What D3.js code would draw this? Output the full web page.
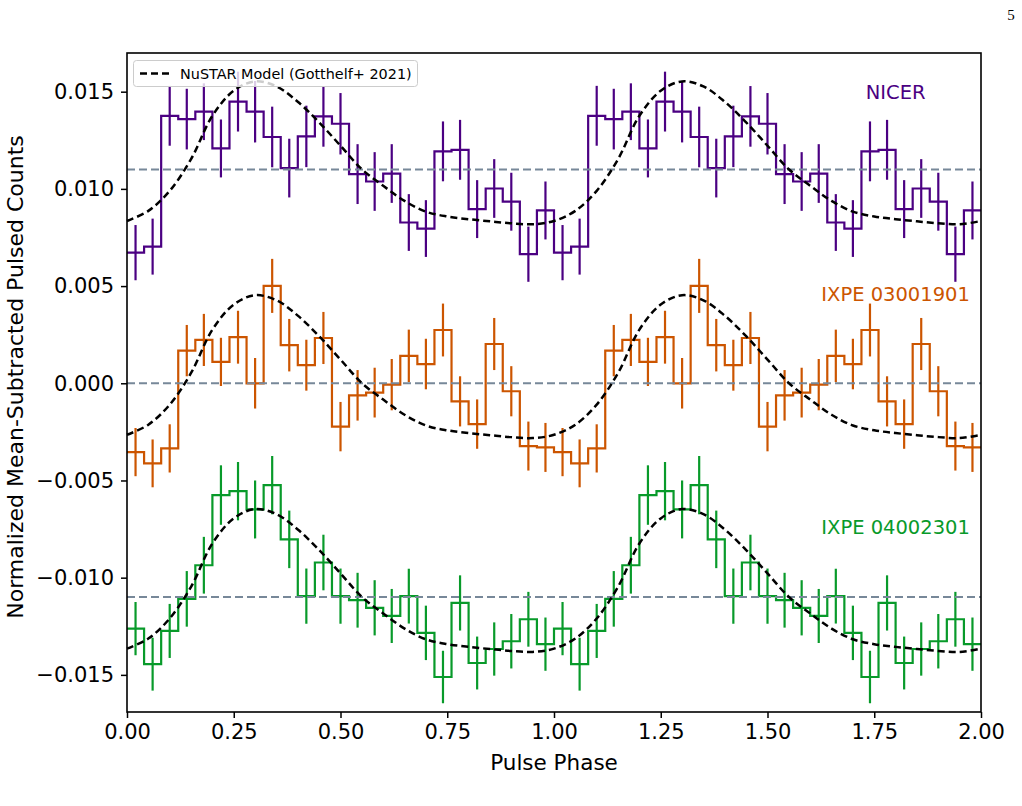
<!DOCTYPE html>
<html>
<head>
<meta charset="utf-8">
<script src="https://cdn.jsdelivr.net/npm/d3@7"></script>
<style>
  body { margin: 0; background: #fff; }
  svg text { font-family: "DejaVu Sans", sans-serif; }
</style>
</head>
<body>
<svg id="chart" width="1022" height="806"></svg>
<script>
// one pulse cycle = 25 phase bins of width 0.04, plotted twice (phase 0-2)
var binWidth = 0.04;
var cycles = 2;

var nicerValues = [0.00672, 0.00703, 0.01376, 0.01359, 0.01397, 0.01208, 0.01449, 0.01397, 0.01267, 0.01107,
  0.0127, 0.01373, 0.01335, 0.01076, 0.01038, 0.01079, 0.00827, 0.00796, 0.01193, 0.01201,
  0.00896, 0.01002, 0.00934, 0.00664, 0.00889];
var nicerErrors = [0.00142, 0.00144, 0.00154, 0.00156, 0.00146, 0.00149, 0.00154, 0.00158, 0.00156, 0.00151,
  0.00158, 0.00156, 0.00158, 0.00154, 0.00151, 0.00151, 0.00146, 0.00146, 0.00154, 0.00154,
  0.00149, 0.00151, 0.00149, 0.00142, 0.00149];

var ixpe1Values = [-0.00354, -0.00412, -0.00335, 0.00168, 0.00223, 0.0011, 0.00237, 0.0, 0.00501, 0.00196,
  0.00093, 0.00233, -0.00223, -0.00062, -0.00048, -0.00007, 0.00141, 0.00099, 0.00274, -0.00093,
  -0.0021, 0.00202, -0.00041, -0.00323, -0.0033];
var ixpe1Errors = [0.00124, 0.00123, 0.00124, 0.00132, 0.00134, 0.00124, 0.00136, 0.0013, 0.00139, 0.00135,
  0.00131, 0.00134, 0.00127, 0.0013, 0.00128, 0.00132, 0.00135, 0.0013, 0.00136, 0.00129,
  0.00127, 0.00134, 0.00129, 0.00126, 0.00126];

var ixpe2Values = [-0.01262, -0.01445, -0.01274, -0.01109, -0.00936, -0.00575, -0.00555, -0.00649, -0.00524, -0.00803,
  -0.01095, -0.00922, -0.01095, -0.01116, -0.01155, -0.01197, -0.01095, -0.01284, -0.01511, -0.0113,
  -0.01439, -0.01367, -0.01327, -0.01214, -0.01342];
var ixpe2Errors = [0.00137, 0.00136, 0.00139, 0.00143, 0.00146, 0.00153, 0.0015, 0.00149, 0.0015, 0.00148,
  0.00142, 0.00143, 0.00142, 0.00141, 0.00142, 0.00139, 0.00141, 0.0014, 0.00135, 0.00142,
  0.00136, 0.00137, 0.0014, 0.00141, 0.00137];

// NuSTAR model profile around each baseline, sampled every 0.05 in phase
var modelStep = 0.05;
var modelProfile = [-0.00265, -0.00213, -0.0011, 0.00053, 0.00276, 0.00405, 0.00453, 0.00427, 0.00348, 0.00242,
  0.00122, 0.00001, -0.00084, -0.00162, -0.00217, -0.00242, -0.00256, -0.00267, -0.00277, -0.00282];

var seriesNames = ["NICER", "IXPE 03001901", "IXPE 04002301"];
var seriesColors = ["#4b0082", "#cc5500", "#089a2a"];
var baselines = [0.011, 0.0, -0.011];
var labelY = [0.0150, 0.0046, -0.0074];
var labelPhase = 1.8;

var xTicks = [0, 0.25, 0.5, 0.75, 1.0, 1.25, 1.5, 1.75, 2.0];
var yTicks = [-0.015, -0.010, -0.005, 0.000, 0.005, 0.010, 0.015];

(function() {
  var svg = d3.select("svg#chart");
  var width = +svg.attr("width");
  var height = +svg.attr("height");
  var margin = {top: 53, right: 41, bottom: 94, left: 127};

  var x = d3.scaleLinear().domain([0, 2]).range([margin.left, width - margin.right]);
  var y = d3.scaleLinear().domain([-0.01691, 0.01699]).range([height - margin.bottom, margin.top]);

  var series = [
    {values: nicerValues, errors: nicerErrors},
    {values: ixpe1Values, errors: ixpe1Errors},
    {values: ixpe2Values, errors: ixpe2Errors}
  ];
  series.forEach(function(s, k) {
    s.name = seriesNames[k];
    s.color = seriesColors[k];
    s.base = baselines[k];
    s.bins = [];
    for (var c = 0; c < cycles; c++) {
      s.values.forEach(function(v, i) {
        var lo = c + i * binWidth;
        s.bins.push({lo: lo, mid: lo + binWidth / 2, v: v, e: s.errors[i]});
      });
    }
  });

  var plot = svg.append("g");

  var step = d3.line()
    .x(function(d) { return x(d[0]); })
    .y(function(d) { return y(d[1]); })
    .curve(d3.curveStepAfter);

  series.forEach(function(s) {
    var pts = s.bins.map(function(b) { return [b.lo, b.v]; });
    pts.push([cycles, s.bins[s.bins.length - 1].v]);

    plot.append("path")
      .datum(pts)
      .attr("fill", "none")
      .attr("stroke", s.color)
      .attr("stroke-width", 2.2)
      .attr("d", step);

    plot.selectAll(null)
      .data(s.bins)
      .enter().append("line")
      .attr("x1", function(d) { return x(d.mid); })
      .attr("x2", function(d) { return x(d.mid); })
      .attr("y1", function(d) { return y(d.v - d.e); })
      .attr("y2", function(d) { return y(d.v + d.e); })
      .attr("stroke", s.color)
      .attr("stroke-width", 2.2);
  });

  // baselines
  plot.selectAll(".baseline")
    .data(baselines)
    .enter().append("line")
    .attr("class", "baseline")
    .attr("x1", x(0))
    .attr("x2", x(2))
    .attr("y1", function(d) { return y(d); })
    .attr("y2", function(d) { return y(d); })
    .attr("stroke", "#778899")
    .attr("stroke-width", 2)
    .attr("stroke-dasharray", "8,4");

  // model curves
  var model = d3.line()
    .x(function(d) { return x(d[0]); })
    .y(function(d) { return y(d[1]); })
    .curve(d3.curveCatmullRom);

  baselines.forEach(function(b) {
    var pts = [];
    for (var c = 0; c < cycles; c++) {
      modelProfile.forEach(function(m, i) { pts.push([c + i * modelStep, b + m]); });
    }
    pts.push([cycles, b + modelProfile[0]]);
    plot.append("path")
      .datum(pts)
      .attr("fill", "none")
      .attr("stroke", "#000")
      .attr("stroke-width", 2.5)
      .attr("stroke-dasharray", "7,4");
    plot.select("path:last-child").attr("d", model);
  });

  // series labels
  plot.selectAll(".label")
    .data(series)
    .enter().append("text")
    .attr("class", "label")
    .attr("x", x(labelPhase))
    .attr("y", function(d, i) { return y(labelY[i]); })
    .attr("dy", "0.36em")
    .attr("text-anchor", "middle")
    .attr("fill", function(d) { return d.color; })
    .style("font-size", "19.5px")
    .text(function(d) { return d.name; });

  // axes
  var fmt = function(d) { return d3.format(".3f")(d).replace("-", "\u2212"); };
  var xAxis = svg.append("g")
    .attr("transform", "translate(0," + (height - margin.bottom) + ")")
    .call(d3.axisBottom(x).tickValues(xTicks).tickFormat(d3.format(".2f")).tickSizeOuter(0).tickSize(6).tickPadding(6));
  var yAxis = svg.append("g")
    .attr("transform", "translate(" + margin.left + ",0)")
    .call(d3.axisLeft(y).tickValues(yTicks).tickFormat(fmt).tickSizeOuter(0).tickSize(6).tickPadding(7));

  [xAxis, yAxis].forEach(function(a) {
    a.select(".domain").remove();
    a.selectAll("line").attr("stroke", "#000").attr("stroke-width", 1.5);
    a.selectAll("text").style("font-size", "21px").style("font-family", "DejaVu Sans").attr("fill", "#000");
  });

  // frame
  svg.append("rect")
    .attr("x", x(0))
    .attr("y", margin.top)
    .attr("width", x(2) - x(0))
    .attr("height", height - margin.bottom - margin.top)
    .attr("fill", "none")
    .attr("stroke", "#000")
    .attr("stroke-width", 1.6);

  svg.append("text")
    .attr("x", (x(0) + x(2)) / 2)
    .attr("y", 770)
    .attr("text-anchor", "middle")
    .style("font-size", "21.5px")
    .text("Pulse Phase");

  svg.append("text")
    .attr("transform", "translate(23,377) rotate(-90)")
    .attr("text-anchor", "middle")
    .style("font-size", "22px")
    .text("Normalized Mean-Subtracted Pulsed Counts");

  // legend
  var legend = svg.append("g");
  legend.append("rect")
    .attr("x", 133.5).attr("y", 60.5)
    .attr("width", 284).attr("height", 26)
    .attr("rx", 3)
    .attr("fill", "#fff").attr("fill-opacity", 0.8)
    .attr("stroke", "#cccccc").attr("stroke-width", 1);
  legend.append("line")
    .attr("x1", 140).attr("x2", 170)
    .attr("y1", 73.5).attr("y2", 73.5)
    .attr("stroke", "#000").attr("stroke-width", 2.5)
    .attr("stroke-dasharray", "7,4");
  legend.append("text")
    .attr("x", 180).attr("y", 78.5)
    .style("font-size", "14.4px")
    .text("NuSTAR Model (Gotthelf+ 2021)");

  // page number
  svg.append("text")
    .attr("x", 1011).attr("y", 20)
    .attr("text-anchor", "middle")
    .style("font-family", "Liberation Serif, serif")
    .style("font-size", "15px")
    .text("5");
})();
</script>
</body>
</html>
